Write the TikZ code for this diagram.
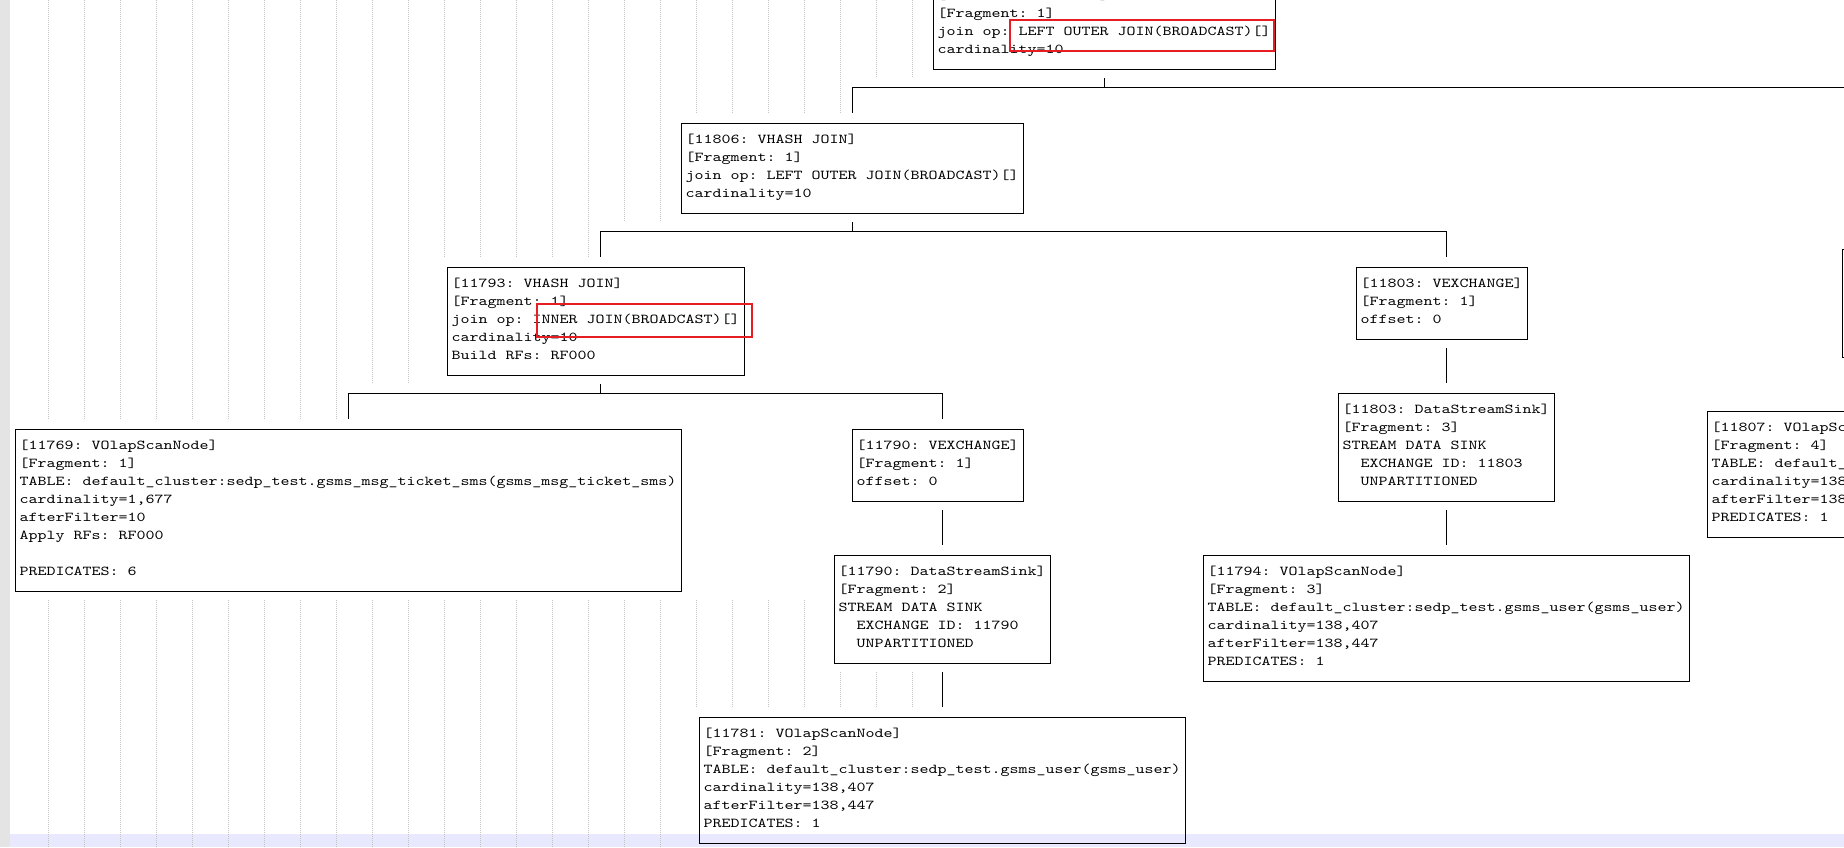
\documentclass[tikz,border=0pt]{standalone}
\usepackage{fontspec}
\usepackage{tikz}
\newfontfamily\planfont{lmmono10-regular.otf}[FakeStretch=1.26]
\definecolor{hired}{RGB}{230,30,36}
\definecolor{gutter}{RGB}{228,228,228}
\definecolor{curline}{RGB}{232,232,255}
\definecolor{guidegray}{RGB}{195,195,195}

\begin{document}
\begin{tikzpicture}[
    x=1pt, y=-1pt,
    planbox/.style={
        rectangle, draw, line width=1pt,
        inner sep=0pt, outer sep=0pt, anchor=north west
    },
    plantext/.style={
        anchor=north west, inner sep=0pt, align=left,
        font={\planfont\fontsize{13.6pt}{18pt}\selectfont\frenchspacing},
        execute at begin node={\rule{0pt}{12pt}}
    },
    conn/.style={line width=1pt},
    guide/.style={line width=1pt, draw=guidegray, dash pattern=on 1pt off 1pt},
    hilite/.style={
        rectangle, draw=hired, line width=2pt,
        inner sep=0pt, anchor=north west
    }
]
\useasboundingbox (0,0) rectangle (1844,847);
\clip (0,0) rectangle (1844,847);
\fill[white] (0,0) rectangle (1844,847);
\fill[gutter] (0,0) rectangle (10,847);
\fill[curline] (10,834) rectangle (1844,847);

% indent guides
\foreach \mfrom/\mto/\ytop/\ybot in {1/9/0/420, 10/11/0/384, 12/16/0/258, 17/18/0/222,
    19/23/0/114, 24/25/0/78, 1/18/600/847, 19/22/600/708, 23/25/672/708} {
  \foreach \m in {\mfrom,...,\mto}
    \draw[guide] ({12+36*\m},\ytop) -- ({12+36*\m},\ybot);
}

% plan boxes
\node[planbox, minimum width=342pt, minimum height=90pt] (n11809) at (933,-21) {};
\node[planbox, minimum width=342pt, minimum height=90pt] (n11806) at (681,123) {};
\node[planbox, minimum width=297pt, minimum height=108pt] (n11793) at (447,267) {};
\node[planbox, minimum width=171pt, minimum height=72pt] (n11803x) at (1356,267) {};
\node[planbox, minimum width=216pt, minimum height=108pt] (n11803s) at (1338,393) {};
\node[planbox, minimum width=486pt, minimum height=126pt] (n11794) at (1203,555) {};
\node[planbox, minimum width=666pt, minimum height=162pt] (n11769) at (15,429) {};
\node[planbox, minimum width=171pt, minimum height=72pt] (n11790x) at (852,429) {};
\node[planbox, minimum width=216pt, minimum height=108pt] (n11790s) at (834,555) {};
\node[planbox, minimum width=486pt, minimum height=126pt] (n11781) at (699,717) {};
\node[planbox, minimum width=486pt, minimum height=126pt] (n11807) at (1707,411) {};
\node[planbox, minimum width=120pt, minimum height=108pt] (nfar) at (1842,249) {};

% box texts
\node[plantext] (t11809) at ([xshift=4.5pt, yshift=-10.5pt]n11809.north west)
  {[11809: VHASH JOIN]\\{[}Fragment: 1]\\join op: LEFT OUTER JOIN(BROADCAST)[]\\cardinality=10};
\node[plantext] (t11806) at ([xshift=4.5pt, yshift=-10.5pt]n11806.north west)
  {[11806: VHASH JOIN]\\{[}Fragment: 1]\\join op: LEFT OUTER JOIN(BROADCAST)[]\\cardinality=10};
\node[plantext] (t11793) at ([xshift=4.5pt, yshift=-10.5pt]n11793.north west)
  {[11793: VHASH JOIN]\\{[}Fragment: 1]\\join op: INNER JOIN(BROADCAST)[]\\cardinality=10\\Build RFs: RF000};
\node[plantext] (t11803x) at ([xshift=4.5pt, yshift=-10.5pt]n11803x.north west)
  {[11803: VEXCHANGE]\\{[}Fragment: 1]\\offset: 0};
\node[plantext] (t11803s) at ([xshift=4.5pt, yshift=-10.5pt]n11803s.north west)
  {[11803: DataStreamSink]\\{[}Fragment: 3]\\STREAM DATA SINK\\\hspace*{18pt}EXCHANGE ID: 11803\\\hspace*{18pt}UNPARTITIONED};
\node[plantext] (t11794) at ([xshift=4.5pt, yshift=-10.5pt]n11794.north west)
  {[11794: VOlapScanNode]\\{[}Fragment: 3]\\TABLE: default\_cluster:sedp\_test.gsms\_user(gsms\_user)\\cardinality=138,407\\afterFilter=138,447\\PREDICATES: 1};
\node[plantext] (t11769) at ([xshift=4.5pt, yshift=-10.5pt]n11769.north west)
  {[11769: VOlapScanNode]\\{[}Fragment: 1]\\TABLE: default\_cluster:sedp\_test.gsms\_msg\_ticket\_sms(gsms\_msg\_ticket\_sms)\\cardinality=1,677\\afterFilter=10\\Apply RFs: RF000\\\mbox{}\\PREDICATES: 6};
\node[plantext] (t11790x) at ([xshift=4.5pt, yshift=-10.5pt]n11790x.north west)
  {[11790: VEXCHANGE]\\{[}Fragment: 1]\\offset: 0};
\node[plantext] (t11790s) at ([xshift=4.5pt, yshift=-10.5pt]n11790s.north west)
  {[11790: DataStreamSink]\\{[}Fragment: 2]\\STREAM DATA SINK\\\hspace*{18pt}EXCHANGE ID: 11790\\\hspace*{18pt}UNPARTITIONED};
\node[plantext] (t11781) at ([xshift=4.5pt, yshift=-10.5pt]n11781.north west)
  {[11781: VOlapScanNode]\\{[}Fragment: 2]\\TABLE: default\_cluster:sedp\_test.gsms\_user(gsms\_user)\\cardinality=138,407\\afterFilter=138,447\\PREDICATES: 1};
\node[plantext] (t11807) at ([xshift=4.5pt, yshift=-10.5pt]n11807.north west)
  {[11807: VOlapScanNode]\\{[}Fragment: 4]\\TABLE: default\_\\cardinality=138\\afterFilter=138\\PREDICATES: 1};

% tree connectors
\coordinate (offright) at (1900,87);
\draw[conn] ([yshift=-9pt]n11809.south) -- ++(0pt,-9pt) -| ([yshift=10pt]n11806.north);
\draw[conn] ([yshift=-18pt]n11809.south) -- (offright);
\draw[conn] ([yshift=-9pt]n11806.south) -- ++(0pt,-9pt) -| ([xshift=4.5pt, yshift=10pt]n11793.north);
\draw[conn] ([yshift=-9pt]n11806.south) -- ++(0pt,-9pt) -| ([xshift=4.5pt, yshift=10pt]n11803x.north);
\draw[conn] ([xshift=4.5pt, yshift=-9pt]n11793.south) -- ++(0pt,-9pt) -| ([yshift=10pt]n11769.north);
\draw[conn] ([xshift=4.5pt, yshift=-9pt]n11793.south) -- ++(0pt,-9pt) -| ([xshift=4.5pt, yshift=10pt]n11790x.north);
\draw[conn] ([xshift=4.5pt, yshift=-9pt]n11790x.south) -- ([yshift=10pt]n11790s.north);
\draw[conn] ([yshift=-9pt]n11790s.south) -- ([yshift=10pt]n11781.north);
\draw[conn] ([xshift=4.5pt, yshift=-9pt]n11803x.south) -- ([yshift=10pt]n11803s.north);
\draw[conn] ([yshift=-9pt]n11803s.south) -- ([yshift=10pt]n11794.north);

% red highlights
\node[hilite, minimum width=264pt, minimum height=30.7pt] (hl11809) at (1009,19.3) {};
\node[hilite, minimum width=215pt, minimum height=33pt] (hl11793) at (535.5,302.5) {};
\end{tikzpicture}
\end{document}
